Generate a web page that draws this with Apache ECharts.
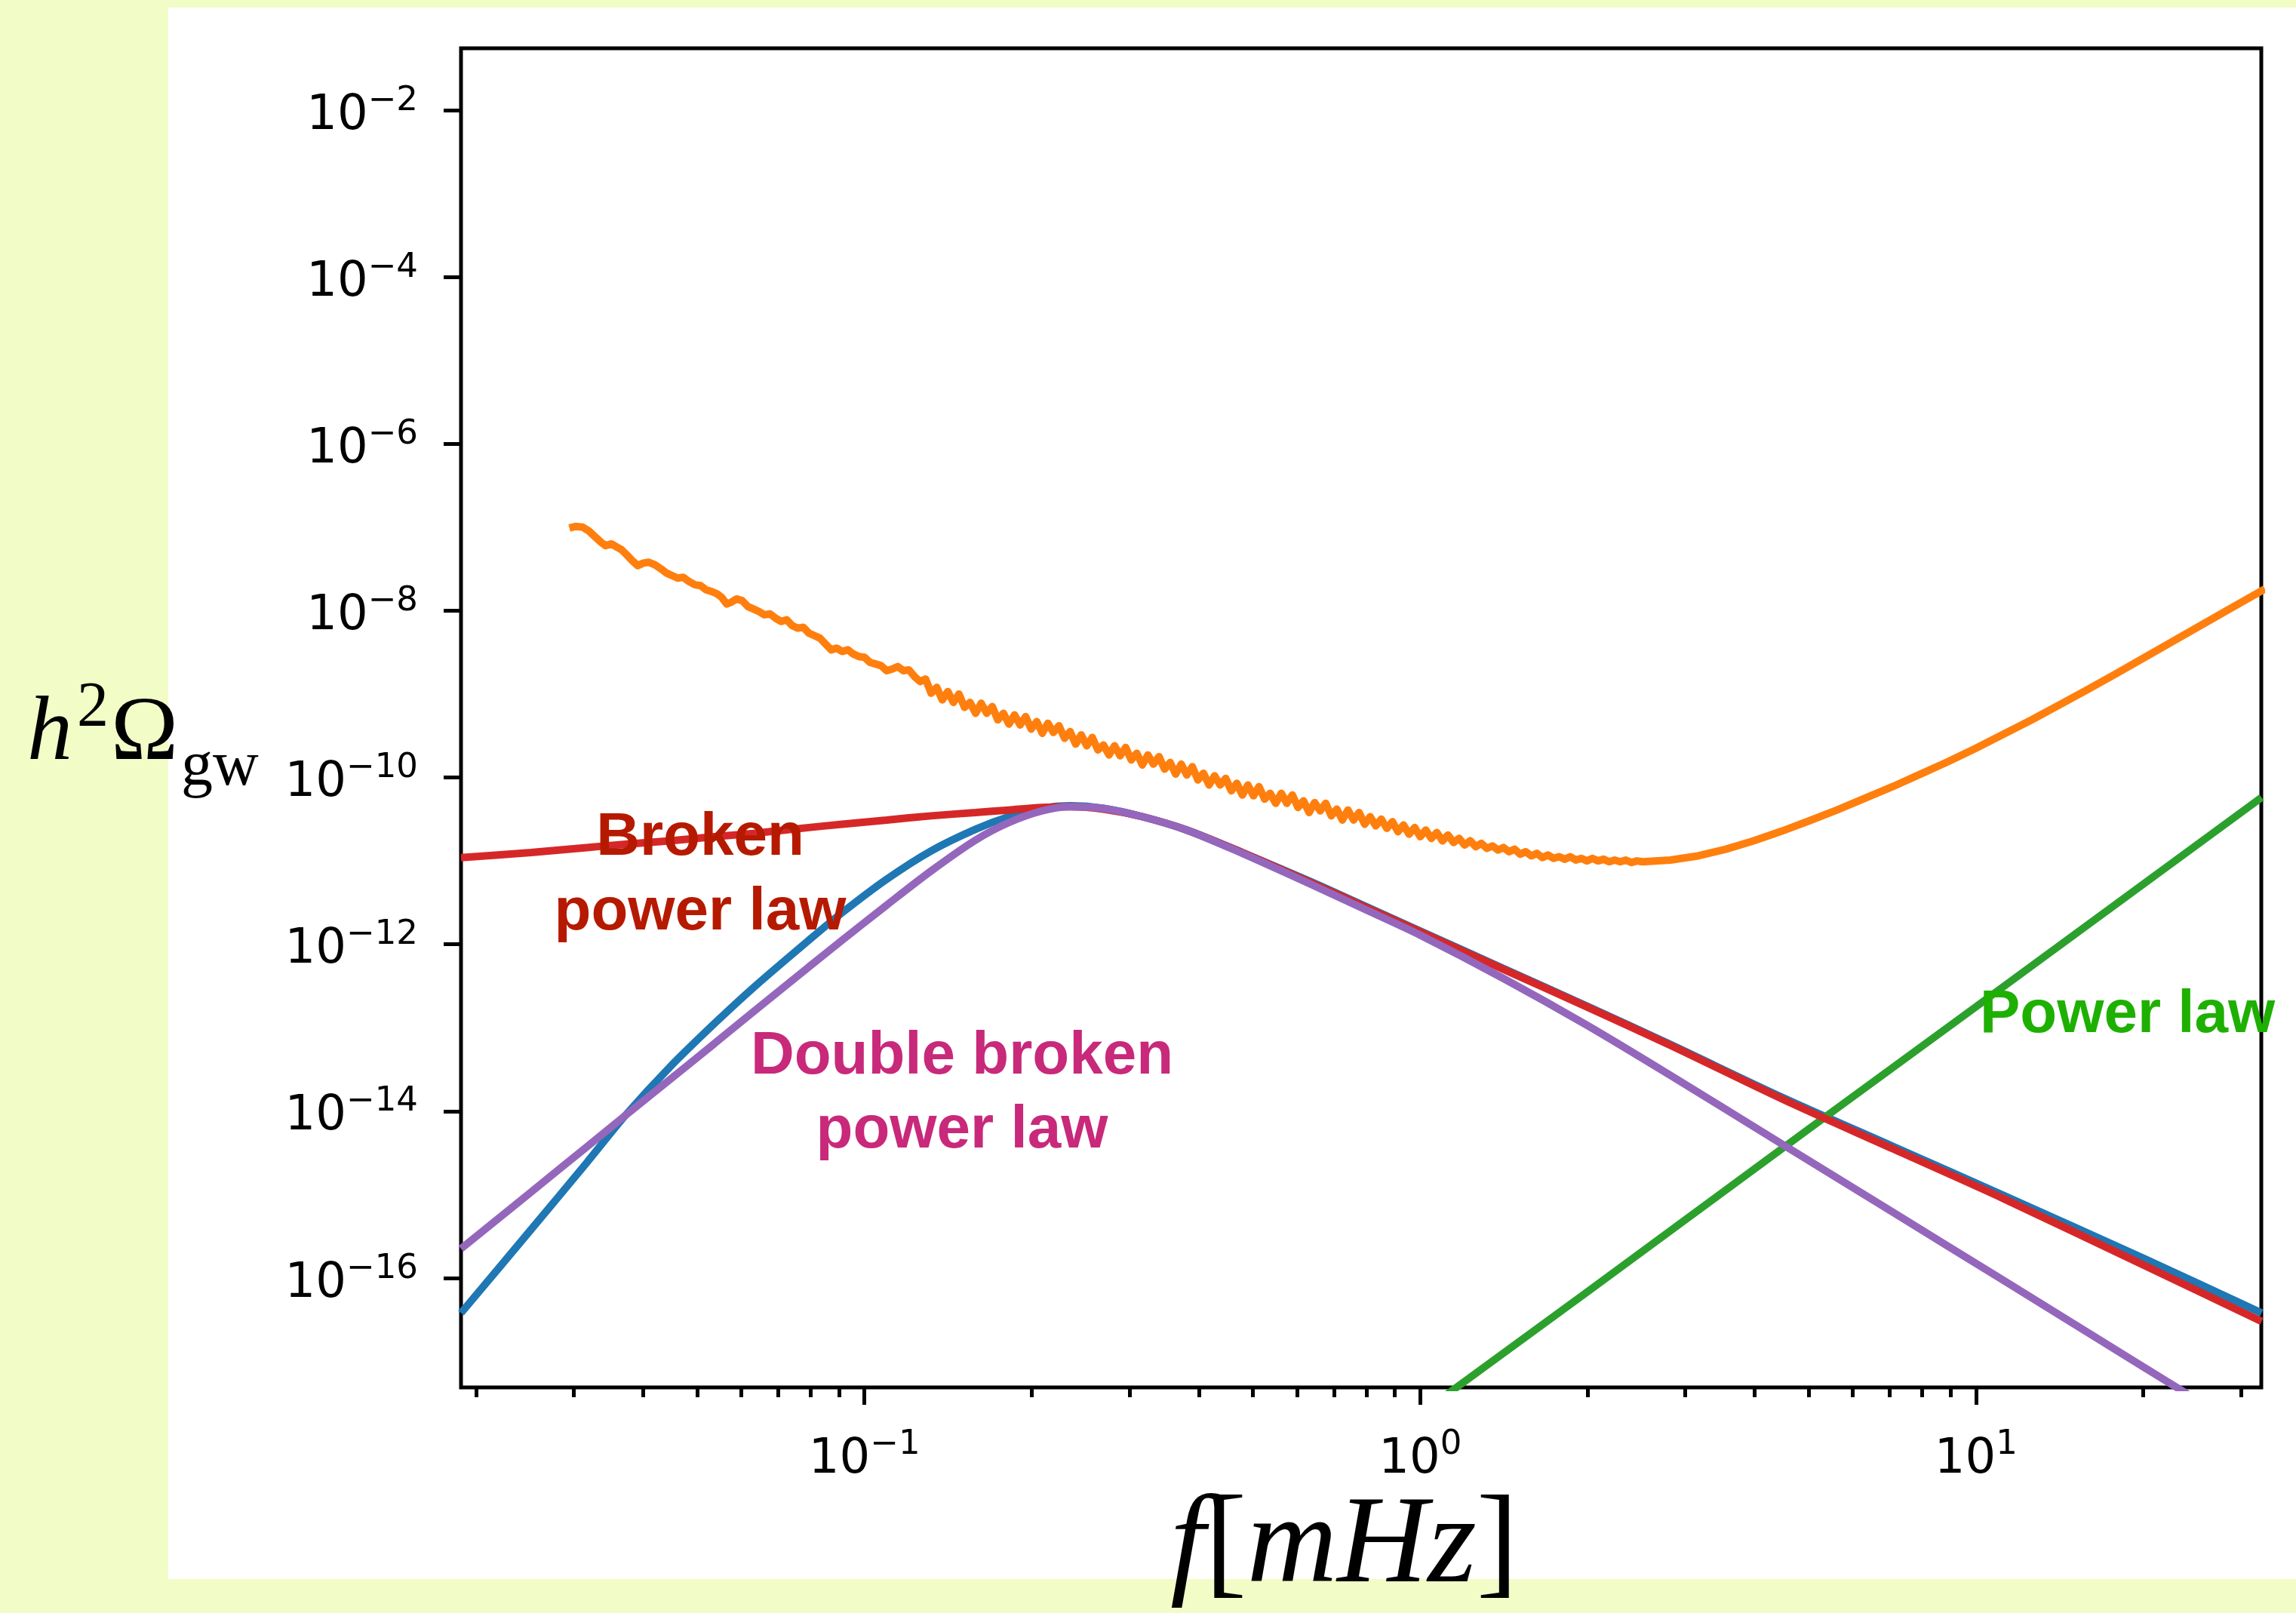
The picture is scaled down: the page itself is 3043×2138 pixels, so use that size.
<!DOCTYPE html>
<html>
<head>
<meta charset="utf-8">
<script src="https://cdn.jsdelivr.net/npm/echarts@6/dist/echarts.min.js"></script>
<style>
html,body{margin:0;padding:0;width:3043px;height:2138px;overflow:hidden;background:#F2FCC7;}
#panel{position:absolute;left:223px;top:10px;width:2820px;height:2083px;background:#ffffff;}
#chart{position:absolute;left:0;top:0;width:3043px;height:2138px;}
</style>
</head>
<body>
<div id="panel"></div>
<div id="chart"></div>
<script>
// ---------------- data (log10 values) ----------------
const X_MIN = 0.018793, X_MAX = 32.62;       // f [mHz]
const Y_MIN = 4.875e-18, Y_MAX = 5.514e-2;   // h^2 Omega_gw

const xMajorTickExp = [-1, 0, 1];
const xMinorTickValues = [0.02,0.03,0.04,0.05,0.06,0.07,0.08,0.09,
                          0.2,0.3,0.4,0.5,0.6,0.7,0.8,0.9,
                          2,3,4,5,6,7,8,9,20,30];
const yTickExp = [-16,-14,-12,-10,-8,-6,-4,-2];

// shared frequency samples (log10 f) for the smooth model curves
const smoothLogF = [-1.726,-1.6,-1.5,-1.43,-1.35,-1.27,-1.2,-1.1,-1.04,-0.96,-0.88,-0.8,-0.74,-0.68,-0.63,-0.57,-0.5,-0.42,-0.32,-0.2,-0.09,0.0,0.15,0.3,0.45,0.65,0.85,1.05,1.3,1.514];
const blueLogOmega = [-16.42,-15.42,-14.62,-14.05,-13.47,-12.95,-12.52,-11.95,-11.62,-11.22,-10.88,-10.62,-10.47,-10.37,-10.34,-10.37,-10.47,-10.63,-10.90,-11.24,-11.57,-11.84,-12.29,-12.74,-13.20,-13.83,-14.42,-15.01,-15.76,-16.42];
const redLogOmega = [-10.96,-10.90,-10.84,-10.80,-10.76,-10.71,-10.67,-10.60,-10.56,-10.51,-10.46,-10.42,-10.39,-10.36,-10.35,-10.38,-10.47,-10.63,-10.90,-11.25,-11.58,-11.85,-12.30,-12.75,-13.21,-13.85,-14.45,-15.05,-15.84,-16.52];
const purpleLogOmega = [-15.65,-14.97,-14.43,-14.05,-13.62,-13.19,-12.81,-12.27,-11.95,-11.53,-11.12,-10.75,-10.54,-10.40,-10.35,-10.37,-10.47,-10.63,-10.91,-11.27,-11.61,-11.89,-12.41,-12.97,-13.57,-14.39,-15.21,-16.03,-17.06,-17.94];

const greenLogF = [0.0, 0.3, 0.7, 1.0, 1.514];
const greenLogOmega = [-17.63, -16.17, -14.21, -12.75, -10.24];

const orangeLogF = [
-1.531,-1.520,-1.507,-1.495,-1.484,-1.474,-1.466,-1.455,-1.445,-1.437,
-1.428,-1.418,-1.408,-1.398,-1.388,-1.377,-1.366,-1.356,-1.346,-1.336,
-1.326,-1.316,-1.305,-1.295,-1.285,-1.275,-1.265,-1.257,-1.248,-1.240,
-1.230,-1.220,-1.210,-1.200,-1.190,-1.180,-1.170,-1.160,-1.150,-1.140,
-1.130,-1.120,-1.110,-1.100,-1.090,-1.080,-1.070,-1.060,-1.050,-1.040,
-1.030,-1.020,-1.010,-1.000,-0.990,-0.980,-0.970,-0.960,-0.950,-0.940,
-0.930,-0.920,-0.910,-0.900,
-0.89,-0.88,-0.87,-0.86,-0.85,-0.84,-0.83,-0.82,-0.81,-0.80,
-0.79,-0.78,-0.77,-0.76,-0.75,-0.74,-0.73,-0.72,-0.71,-0.70,
-0.69,-0.68,-0.67,-0.66,-0.65,-0.64,-0.63,-0.62,-0.61,-0.60,
-0.59,-0.58,-0.57,-0.56,-0.55,-0.54,-0.53,-0.52,-0.51,-0.50,
-0.49,-0.48,-0.47,-0.46,-0.45,-0.44,-0.43,-0.42,-0.41,-0.40,
-0.39,-0.38,-0.37,-0.36,-0.35,-0.34,-0.33,-0.32,-0.31,-0.30,
-0.29,-0.28,-0.27,-0.26,-0.25,-0.24,-0.23,-0.22,-0.21,-0.20,
-0.19,-0.18,-0.17,-0.16,-0.15,-0.14,-0.13,-0.12,-0.11,-0.10,
-0.09,-0.08,-0.07,-0.06,-0.05,-0.04,-0.03,-0.02,-0.01,0.00,
0.01,0.02,0.03,0.04,0.05,0.06,0.07,0.08,0.09,0.10,
0.11,0.12,0.13,0.14,0.15,0.16,0.17,0.18,0.19,0.20,
0.21,0.22,0.23,0.24,0.25,0.26,0.27,0.28,0.29,0.30,
0.31,0.32,0.33,0.34,0.35,0.36,0.37,0.38,0.39,0.40,
0.45,0.50,0.55,0.60,0.65,0.70,0.75,0.80,0.85,0.90,
0.95,1.00,1.05,1.10,1.15,1.20,1.25,1.30,1.35,1.40,1.45,1.52];
const orangeLogOmega = [
-7.01,-6.99,-7.00,-7.05,-7.12,-7.18,-7.22,-7.20,-7.24,-7.27,
-7.33,-7.40,-7.46,-7.43,-7.42,-7.45,-7.50,-7.55,-7.58,-7.61,
-7.60,-7.65,-7.69,-7.70,-7.75,-7.77,-7.80,-7.84,-7.92,-7.90,
-7.86,-7.88,-7.95,-7.98,-8.01,-8.05,-8.04,-8.09,-8.13,-8.11,
-8.18,-8.21,-8.20,-8.27,-8.30,-8.33,-8.40,-8.47,-8.45,-8.49,
-8.47,-8.52,-8.55,-8.56,-8.62,-8.64,-8.66,-8.72,-8.70,-8.67,
-8.72,-8.71,-8.79,-8.85,
-8.82,-8.99,-8.92,-9.07,-8.97,-9.10,-9.00,-9.16,-9.10,-9.23,
-9.11,-9.23,-9.15,-9.31,-9.23,-9.36,-9.25,-9.37,-9.27,-9.42,
-9.33,-9.47,-9.35,-9.46,-9.38,-9.53,-9.45,-9.60,-9.49,-9.62,
-9.52,-9.67,-9.61,-9.73,-9.62,-9.74,-9.64,-9.79,-9.71,-9.85,
-9.73,-9.84,-9.75,-9.90,-9.82,-9.96,-9.84,-9.97,-9.87,-10.03,
-9.95,-10.09,-9.98,-10.09,-10.01,-10.16,-10.07,-10.21,-10.09,-10.22,
-10.11,-10.26,-10.19,-10.31,-10.19,-10.31,-10.21,-10.36,-10.28,-10.42,
-10.30,-10.40,-10.31,-10.46,-10.38,-10.51,-10.39,-10.51,-10.42,-10.56,
-10.47,-10.58,-10.50,-10.61,-10.53,-10.65,-10.57,-10.68,-10.60,-10.71,
-10.63,-10.73,-10.66,-10.76,-10.69,-10.78,-10.73,-10.81,-10.76,-10.83,
-10.79,-10.85,-10.82,-10.87,-10.84,-10.89,-10.86,-10.92,-10.89,-10.94,
-10.91,-10.96,-10.93,-10.97,-10.95,-10.98,-10.95,-10.99,-10.97,-11.00,
-10.97,-11.00,-10.98,-11.01,-10.99,-11.01,-10.99,-11.02,-11.00,-11.01,
-10.99,-10.94,-10.86,-10.76,-10.645,-10.52,-10.39,-10.25,-10.11,-9.96,
-9.81,-9.65,-9.48,-9.31,-9.13,-8.95,-8.765,-8.575,-8.385,-8.195,-8.005,-7.74];

// ---------------- helpers ----------------
function pairs(logF, logO) {
  return logF.map((x, i) => [Math.pow(10, x), Math.pow(10, logO[i])]);
}
function sciLabel(v) {
  const e = Math.round(Math.log10(v));
  return '{b|10}{s|' + (e < 0 ? '\u2212' + (-e) : String(e)) + '}';
}
const tickRich = {
  b: { fontFamily: 'DejaVu Sans', fontSize: 64, lineHeight: 64, color: '#000' },
  s: { fontFamily: 'DejaVu Sans', fontSize: 45, height: 24, lineHeight: 24, verticalAlign: 'top', color: '#000' }
};
const tickLine = { color: '#000', width: 5 };
const xMajorValues = xMajorTickExp.map(e => Math.pow(10, e));
const yTickValues = yTickExp.map(e => Math.pow(10, e));

const chart = echarts.init(document.getElementById('chart'), null, { renderer: 'canvas', width: 3043, height: 2138 });

const lineCommon = { type: 'line', showSymbol: false, symbol: 'none', clip: true, animation: false };
const LW = 10;

const option = {
  animation: false,
  backgroundColor: 'transparent',
  grid: {
    left: 611, top: 64, width: 2386, height: 1775,
    show: true, borderColor: '#000', borderWidth: 5, backgroundColor: 'transparent',
    containLabel: false, outerBoundsMode: 'none'
  },
  xAxis: [
    {
      type: 'log', min: X_MIN, max: X_MAX, position: 'bottom',
      axisLine: { show: false, onZero: false },
      splitLine: { show: false }, minorTick: { show: false },
      axisTick: { show: true, inside: false, length: 23, lineStyle: tickLine, customValues: xMajorValues },
      axisLabel: { show: true, customValues: xMajorValues, formatter: sciLabel, margin: 64, rich: tickRich }
    },
    {
      type: 'log', min: X_MIN, max: X_MAX, position: 'bottom',
      axisLine: { show: false, onZero: false },
      splitLine: { show: false }, axisLabel: { show: false },
      axisTick: { show: true, inside: false, length: 13, lineStyle: tickLine, customValues: xMinorTickValues }
    }
  ],
  yAxis: [
    {
      type: 'log', min: Y_MIN, max: Y_MAX, position: 'left',
      axisLine: { show: false, onZero: false },
      splitLine: { show: false }, minorTick: { show: false },
      axisTick: { show: true, inside: false, length: 23, lineStyle: tickLine, customValues: yTickValues },
      axisLabel: { show: true, customValues: yTickValues, formatter: sciLabel, margin: 57, padding: [16, 0, 0, 0], rich: tickRich }
    }
  ],
  series: [
    Object.assign({}, lineCommon, { name: 'blue', data: pairs(smoothLogF, blueLogOmega), smooth: 0.3, lineStyle: { color: '#1f77b4', width: LW } }),
    Object.assign({}, lineCommon, { name: 'orange', data: pairs(orangeLogF, orangeLogOmega), smooth: false, lineStyle: { color: '#ff7f0e', width: LW, join: 'round' } }),
    Object.assign({}, lineCommon, { name: 'green', data: pairs(greenLogF, greenLogOmega), smooth: false, lineStyle: { color: '#2ca02c', width: LW } }),
    Object.assign({}, lineCommon, { name: 'red', data: pairs(smoothLogF, redLogOmega), smooth: 0.3, lineStyle: { color: '#d62728', width: LW } }),
    Object.assign({}, lineCommon, { name: 'purple', data: pairs(smoothLogF, purpleLogOmega), smooth: 0.3, lineStyle: { color: '#9467bd', width: LW } })
  ],
  graphic: [
    // y-axis title  h^2 Omega_gw
    { type: 'text', z: 100, x: 36, y: 974, style: { text: 'h', fontFamily: 'Liberation Serif', fontStyle: 'italic', fontSize: 120, fill: '#000', align: 'left', verticalAlign: 'middle' } },
    { type: 'text', z: 100, x: 102, y: 940, style: { text: '2', fontFamily: 'Liberation Serif', fontSize: 84, fill: '#000', align: 'left', verticalAlign: 'middle' } },
    { type: 'text', z: 100, x: 147, y: 974, style: { text: '\u03A9', fontFamily: 'Liberation Serif', fontSize: 120, fill: '#000', align: 'left', verticalAlign: 'middle' } },
    { type: 'text', z: 100, x: 240, y: 1018, style: { text: 'gw', fontFamily: 'Liberation Serif', fontSize: 84, fill: '#000', align: 'left', verticalAlign: 'middle' } },
    // x-axis title  f[mHz]
    { type: 'text', z: 100, x: 1551, y: 2052, style: {
        text: '{i|f}{u|[}{i|mHz}{u|]}', align: 'left', verticalAlign: 'middle',
        rich: {
          i: { fontFamily: 'Liberation Serif', fontStyle: 'italic', fontSize: 166, fill: '#000' },
          u: { fontFamily: 'Liberation Serif', fontSize: 166, fill: '#000' }
        } } },
    // annotations
    { type: 'text', z: 100, x: 928, y: 1061, style: { text: 'Broken\npower law', fontFamily: 'Liberation Sans', fontWeight: 'bold', fontSize: 80, lineHeight: 99, fill: '#B51A00', align: 'center', verticalAlign: 'top' } },
    { type: 'text', z: 100, x: 1275, y: 1352, style: { text: 'Double broken\npower law', fontFamily: 'Liberation Sans', fontWeight: 'bold', fontSize: 80, lineHeight: 98, fill: '#C8297A', align: 'center', verticalAlign: 'top' } },
    { type: 'text', z: 100, x: 2624, y: 1346, style: { text: 'Power law', fontFamily: 'Liberation Sans', fontWeight: 'bold', fontSize: 80, fill: '#1EB000', align: 'left', verticalAlign: 'middle' } }
  ]
};
chart.setOption(option);
</script>
</body>
</html>
